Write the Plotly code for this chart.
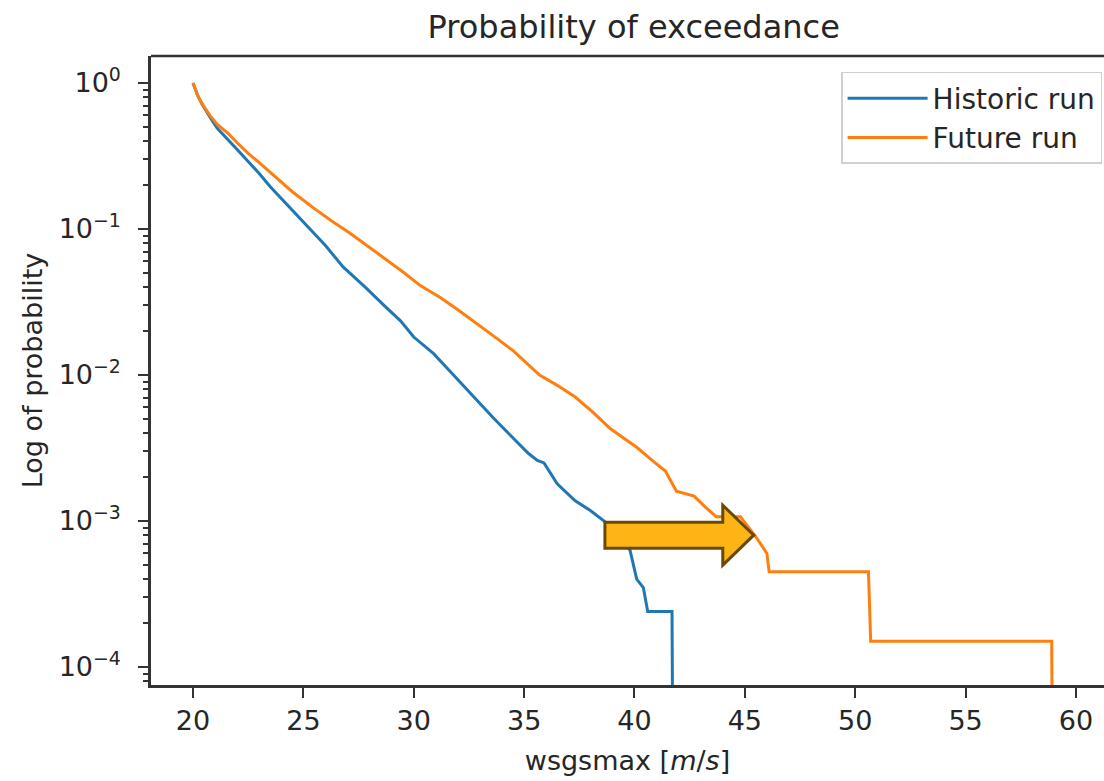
import math
import plotly.graph_objects as go

# ---- data ----
hist_speed = [20.0, 20.1, 20.2, 20.4, 20.6, 20.8, 21.1, 21.6, 22.0, 22.5, 23.0, 23.5, 24.3,
              25.2, 26.0, 26.8, 27.8, 28.7, 29.4, 30.0, 30.9, 31.8, 32.7, 33.6, 34.5, 35.2,
              35.6, 35.9, 36.5, 37.3, 38.0, 38.7, 39.3, 39.8, 40.1, 40.4, 40.6, 41.7, 41.75]
hist_prob = [1.0, 0.90, 0.83, 0.72, 0.64, 0.575, 0.49, 0.41, 0.35, 0.29, 0.24, 0.195, 0.145,
             0.105, 0.077, 0.055, 0.040, 0.0295, 0.0235, 0.0182, 0.0140, 0.0100, 0.0071,
             0.0051, 0.0037, 0.0029, 0.0026, 0.0025, 0.0018, 0.00138, 0.00118, 0.00098,
             0.00080, 0.00063, 0.00040, 0.00035, 0.00024, 0.00024, 0.00001]

fut_speed = [20.0, 20.1, 20.2, 20.4, 20.6, 20.8, 21.1, 21.6, 22.0, 22.5, 23.0, 23.5, 24.5,
             25.5, 26.3, 27.1, 27.9, 28.7, 29.5, 30.3, 31.2, 32.0, 33.0, 33.9, 34.5, 35.0,
             35.7, 36.5, 37.3, 38.1, 38.9, 39.5, 40.1, 40.8, 41.4, 41.9, 42.7, 43.2, 43.7,
             44.8, 45.5, 46.0, 46.1, 50.6, 50.7, 58.9, 58.95]
fut_prob = [1.0, 0.90, 0.83, 0.725, 0.65, 0.59, 0.52, 0.45, 0.39, 0.33, 0.285, 0.245, 0.18,
            0.138, 0.113, 0.094, 0.077, 0.063, 0.051, 0.041, 0.034, 0.028, 0.0215, 0.0172,
            0.0147, 0.0125, 0.0100, 0.0085, 0.0071, 0.0056, 0.0043, 0.0037, 0.0032, 0.0026,
            0.0022, 0.0016, 0.00148, 0.00125, 0.00107, 0.00107, 0.00078, 0.00060, 0.00045,
            0.00045, 0.00015, 0.00015, 0.00001]

x_ticks = [20, 25, 30, 35, 40, 45, 50, 55, 60]
y_ticks = [1, 0.1, 0.01, 0.001, 0.0001]
y_tick_text = ["10<sup>0</sup>", "10<sup>−1</sup>", "10<sup>−2</sup>", "10<sup>−3</sup>", "10<sup>−4</sup>"]

# arrow annotation (shift of the ~1e-3 exceedance level)
arrow_start_speed = 38.66
arrow_head_speed = 44.0
arrow_tip_speed = 45.4
arrow_level = 8.0e-4

X_RANGE = [18.097, 61.27]
Y_RANGE_LOG = [-4.123, 0.185]

FONT = "DejaVu Sans"
TXT = "#262626"
AX = "#333333"

fig = go.Figure()
fig.add_trace(go.Scatter(x=hist_speed, y=hist_prob, mode="lines", name="Historic run",
                         legendgroup="h", line=dict(color="#1f77b4", width=3)))
fig.add_trace(go.Scatter(x=fut_speed, y=fut_prob, mode="lines", name="Future run",
                         legendgroup="f", line=dict(color="#ff7f0e", width=3)))

# arrow shape: x in data, y in paper
yp = (math.log10(arrow_level) - Y_RANGE_LOG[0]) / (Y_RANGE_LOG[1] - Y_RANGE_LOG[0])
plot_h = 629.0
bh = 13 / plot_h
hh = 30 / plot_h
path = (f"M{arrow_start_speed},{yp + bh} L{arrow_head_speed},{yp + bh} L{arrow_head_speed},{yp + hh} "
        f"L{arrow_tip_speed},{yp} L{arrow_head_speed},{yp - hh} L{arrow_head_speed},{yp - bh} "
        f"L{arrow_start_speed},{yp - bh} Z")
fig.add_shape(type="path", path=path, xref="x", yref="paper",
              fillcolor="#FDB515", line=dict(color="#6B4A00", width=3), layer="above")

minor_vals = [m * 10 ** e for e in range(-5, 1) for m in range(2, 10)]

fig.update_layout(
    width=1104, height=781,
    margin=dict(l=151, r=0, t=56, b=96),
    paper_bgcolor="white", plot_bgcolor="white",
    font=dict(family=FONT, size=27, color=TXT),
    title=dict(text="Probability of exceedance", x=0.574, xanchor="center",
               y=1 - 27 / 781, yanchor="middle", font=dict(size=32, color=TXT)),
    showlegend=True,
    legend=dict(x=0.998, xanchor="right", y=0.9746, yanchor="top",
                bgcolor="rgba(255,255,255,0.85)", bordercolor="#d0d0d0", borderwidth=1.5,
                font=dict(size=28, color=TXT), itemwidth=80, tracegroupgap=8,
                traceorder="normal"),
    xaxis=dict(range=X_RANGE, tickvals=x_ticks, ticks="outside", ticklen=10, tickwidth=2,
               tickcolor=AX, showline=True, linecolor=AX, linewidth=2.5, showgrid=False,
               zeroline=False, mirror=False,
               title=dict(text="wsgsmax [<i>m</i>/<i>s</i>]", standoff=16, font=dict(size=27))),
    yaxis=dict(type="log", range=Y_RANGE_LOG, tickvals=y_ticks, ticktext=y_tick_text,
               ticks="outside", ticklen=10, tickwidth=2, tickcolor=AX, showline=True,
               linecolor=AX, linewidth=2.5, showgrid=False, zeroline=False,
               ticklabelstandoff=12,
               minor=dict(tickvals=minor_vals, ticks="outside", ticklen=5, tickwidth=1.5,
                          tickcolor=AX, showgrid=False),
               title=dict(text="Log of probability", standoff=9, font=dict(size=27))),
)

# top spine
fig.add_shape(type="line", xref="paper", yref="paper", x0=0, x1=1, y0=1, y1=1,
              line=dict(color=AX, width=2.5))

fig.write_html("out.html")
